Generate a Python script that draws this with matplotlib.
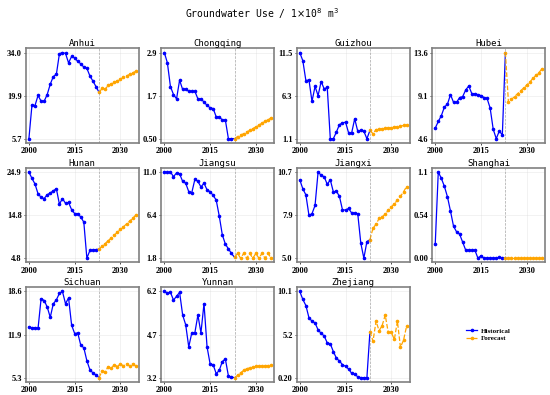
import numpy as np
import matplotlib
matplotlib.use("Agg")
import matplotlib.pyplot as plt
from matplotlib.lines import Line2D
from matplotlib.font_manager import FontProperties

# years
hist_years = list(range(2000, 2023))
fc_years = list(range(2023, 2036))

provinces = ["Anhui", "Chongqing", "Guizhou", "Hubei", "Hunan", "Jiangsu",
             "Jiangxi", "Shanghai", "Sichuan", "Yunnan", "Zhejiang"]

# historical (2000-2022) and forecast (2023-2035), 1e8 m3
anhui_hist = [5.7, 16.7, 16.6, 19.9, 18.0, 18.0, 20.2, 23.6, 26.1, 26.8, 33.6, 34.0,
              33.7, 30.6, 32.7, 32.2, 31.1, 30.3, 29.2, 28.8, 26.3, 24.6, 22.8]
anhui_fc = [20.9, 22.2, 22.0, 23.2, 23.7, 24.2, 24.7, 25.3, 25.8, 26.3, 26.8, 27.3, 27.8]

chongqing_hist = [2.9, 2.61, 1.95, 1.73, 1.61, 2.13, 1.87, 1.88, 1.82, 1.82, 1.82, 1.61,
                  1.61, 1.52, 1.43, 1.36, 1.34, 1.11, 1.11, 1.02, 1.02, 0.50, 0.50]
chongqing_fc = [0.50, 0.56, 0.60, 0.64, 0.69, 0.73, 0.78, 0.83, 0.88, 0.93, 0.98, 1.03, 1.08]

guizhou_hist = [11.5, 10.5, 8.1, 8.2, 5.6, 7.4, 6.3, 8.0, 7.1, 7.3, 1.1, 1.1,
                1.9, 2.8, 3.0, 3.1, 1.8, 1.8, 3.5, 2.0, 2.1, 2.0, 1.1]
guizhou_fc = [2.1, 1.7, 2.2, 2.25, 2.3, 2.35, 2.4, 2.45, 2.5, 2.55, 2.6, 2.7, 2.8]

hubei_hist = [5.7, 6.4, 7.0, 7.9, 8.2, 9.2, 8.4, 8.4, 8.9, 9.0, 9.7, 10.1,
              9.3, 9.3, 9.2, 9.1, 8.9, 8.8, 7.8, 5.6, 4.6, 5.4, 5.0]
hubei_fc = [13.6, 8.4, 8.7, 9.0, 9.3, 9.6, 9.9, 10.2, 10.5, 10.9, 11.2, 11.5, 11.9]

hunan_hist = [24.9, 23.4, 22.1, 19.8, 19.0, 18.7, 19.6, 20.0, 20.5, 21.0, 17.4, 18.7,
              17.6, 17.8, 16.1, 15.2, 15.2, 14.4, 13.2, 4.8, 6.6, 6.7, 6.8]
hunan_fc = [6.9, 7.6, 8.2, 8.9, 9.5, 10.2, 10.8, 11.5, 12.1, 12.8, 13.4, 14.1, 14.8]

jiangsu_hist = [11.0, 10.95, 11.0, 10.5, 10.9, 10.8, 10.0, 9.8, 8.9, 8.8, 10.2, 10.0,
                9.4, 9.8, 9.1, 8.9, 8.5, 8.0, 6.3, 4.3, 3.3, 2.8, 2.3]
jiangsu_fc = [1.9, 2.3, 1.8, 2.3, 1.8, 2.3, 1.8, 2.3, 1.8, 2.3, 1.8, 2.3, 1.8]

jiangxi_hist = [10.2, 9.6, 9.2, 7.85, 7.95, 8.5, 10.72, 10.5, 10.4, 9.9, 10.2, 9.4,
                9.45, 9.1, 8.2, 8.2, 8.3, 8.0, 8.0, 7.95, 6.0, 5.0, 6.1]
jiangxi_fc = [6.23, 6.99, 7.25, 7.64, 7.74, 7.92, 8.18, 8.39, 8.61, 8.85, 9.1, 9.4, 9.75]

shanghai_hist = [0.175, 1.08, 1.00, 0.90, 0.77, 0.59, 0.40, 0.33, 0.30, 0.20, 0.10, 0.10,
                 0.10, 0.10, 0.0, 0.03, 0.0, 0.0, 0.0, 0.0, 0.0, 0.01, 0.0]
shanghai_fc = [0.0] * 13

sichuan_hist = [13.1, 13.0, 13.0, 12.9, 17.5, 17.2, 16.2, 14.6, 16.7, 17.3, 18.3, 18.6,
                16.7, 17.6, 13.4, 12.1, 12.2, 10.3, 9.9, 7.9, 6.5, 6.0, 5.7]
sichuan_fc = [5.28, 6.3, 6.2, 7.0, 6.7, 7.3, 7.0, 7.4, 7.1, 7.4, 7.1, 7.4, 7.1]

yunnan_hist = [6.2, 6.15, 6.17, 5.9, 6.03, 6.17, 5.38, 5.04, 4.27, 4.76, 4.76, 5.38,
               4.76, 5.78, 4.27, 3.68, 3.65, 3.34, 3.45, 3.76, 3.85, 3.26, 3.22]
yunnan_fc = [3.2, 3.28, 3.37, 3.45, 3.51, 3.54, 3.56, 3.59, 3.6, 3.61, 3.62, 3.62, 3.63]

zhejiang_hist = [10.12, 9.2, 8.5, 7.1, 6.7, 6.5, 5.7, 5.3, 5.0, 4.2, 4.1, 3.2,
                 2.45, 2.1, 1.7, 1.5, 1.2, 0.7, 0.6, 0.3, 0.2, 0.2, 0.2]
zhejiang_fc = [5.5, 4.4, 6.7, 5.6, 6.2, 7.4, 5.4, 5.4, 4.6, 6.7, 3.7, 4.5, 6.1]

hist_all = [anhui_hist, chongqing_hist, guizhou_hist, hubei_hist, hunan_hist, jiangsu_hist,
            jiangxi_hist, shanghai_hist, sichuan_hist, yunnan_hist, zhejiang_hist]
fc_all = [anhui_fc, chongqing_fc, guizhou_fc, hubei_fc, hunan_fc, jiangsu_fc,
          jiangxi_fc, shanghai_fc, sichuan_fc, yunnan_fc, zhejiang_fc]

TICKFONT = FontProperties(family="Liberation Serif", weight="bold", size=6)
MONO = "DejaVu Sans Mono"


def fmt(v):
    return f"{v:.2f}" if abs(v) < 1 else f"{v:.1f}"


fig, axes = plt.subplots(3, 4, figsize=(5.5, 3.95), dpi=100)
fig.subplots_adjust(left=0.047, right=0.991, top=0.878, bottom=0.033,
                    wspace=0.2, hspace=0.26)

for i, ax in enumerate(axes.flat):
    if i >= len(provinces):
        ax.axis("off")
        continue
    h, f = hist_all[i], fc_all[i]
    # blue line runs on to the first forecast point
    ax.plot(hist_years + [fc_years[0]], h + [f[0]], color="blue", lw=0.9,
            marker="o", ms=1.6, markevery=list(range(len(h))))
    ax.plot(fc_years, f, color="orange", ls="--", lw=0.9, marker="o", ms=1.6)
    ax.axvline(2023, color="gray", ls="--", lw=0.5, alpha=0.7)
    ax.set_xlim(1999, 2036)
    lo, hi = min(h + f), max(h + f)
    ticks = [lo, (lo + hi) / 2, hi]
    ax.set_yticks(ticks)
    ax.set_yticklabels([fmt(t) for t in ticks])
    ax.set_xticks([2000, 2015, 2030])
    for lab in ax.get_xticklabels() + ax.get_yticklabels():
        lab.set_fontproperties(TICKFONT)
    ax.tick_params(length=1.5, width=0.5, pad=1.5, colors="black")
    ax.grid(True, color="lightgray", lw=0.4, alpha=0.5)
    for sp in ax.spines.values():
        sp.set_color("gray")
        sp.set_linewidth(1.2)
    ax.set_title(provinces[i], family=MONO, fontsize=6.5, pad=1.5)

handles = [Line2D([], [], color="blue", lw=0.9, marker="o", ms=1.6, label="Historical"),
           Line2D([], [], color="orange", lw=0.9, ls="--", marker="o", ms=1.6, label="Forecast")]
axes.flat[11].legend(handles=handles, loc="center", frameon=False, handlelength=1.6,
                     prop=dict(family="Liberation Serif", weight="bold", size=5),
                     labelspacing=0.3, handletextpad=0.5)

fig.text(0.476, 0.965, r"Groundwater Use / 1$\times$10$^8$ m$^3$", family=MONO,
         fontsize=7, ha="center", va="center")

fig.savefig("out.png", dpi=100)
